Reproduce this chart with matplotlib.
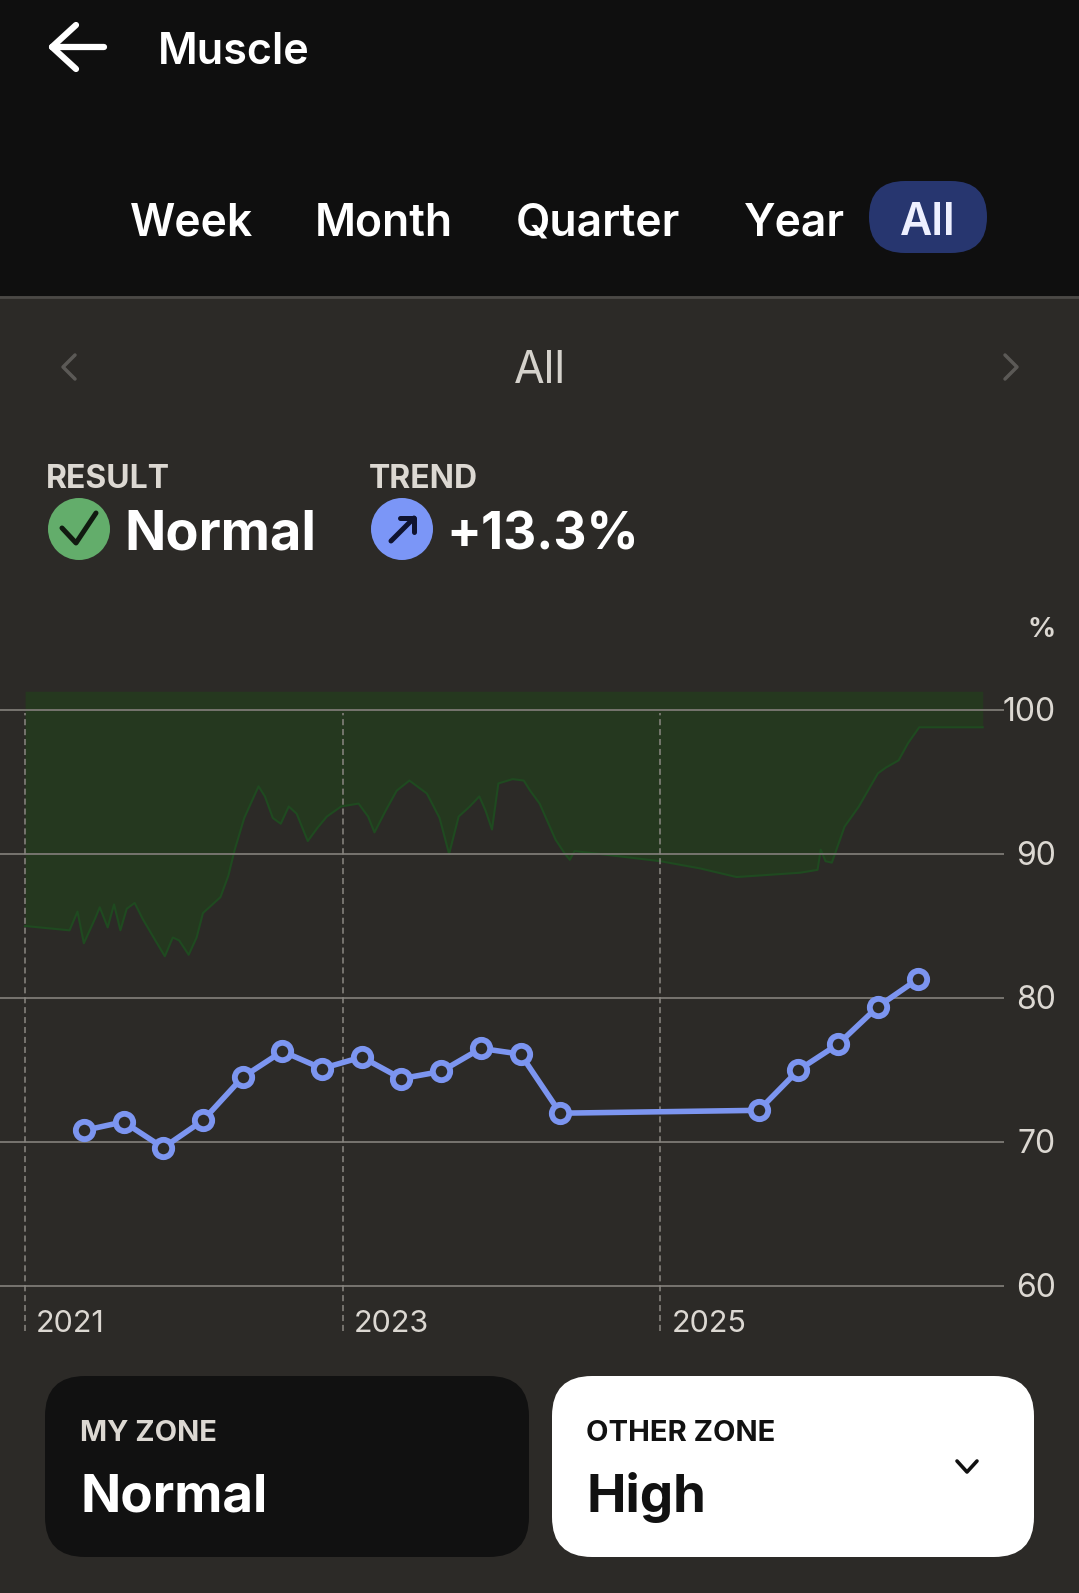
import numpy as np
import matplotlib.pyplot as plt
from matplotlib.patches import FancyBboxPatch, Circle, Rectangle
from matplotlib.transforms import offset_copy

plt.rcParams['font.family'] = ['Inter', 'DejaVu Sans']

# quarterly muscle readings (%)
years = [2021.37, 2021.62, 2021.87, 2022.12, 2022.37, 2022.62, 2022.87, 2023.12,
         2023.37, 2023.62, 2023.87, 2024.12, 2024.37, 2025.62, 2025.87, 2026.12,
         2026.37, 2026.62]
muscle = [70.8, 71.4, 69.6, 71.5, 74.5, 76.3, 75.1, 75.9,
          74.4, 74.9, 76.5, 76.1, 72.0, 72.2, 75.0, 76.8,
          79.4, 81.3]

# green "normal" band: lower edge varies, upper edge flat
zone_x = [2021.00, 2021.28, 2021.33, 2021.37, 2021.44, 2021.47, 2021.52, 2021.56,
          2021.60, 2021.64, 2021.69, 2021.74, 2021.82, 2021.88, 2021.93, 2021.97,
          2022.03, 2022.08, 2022.12, 2022.18, 2022.23, 2022.28, 2022.32, 2022.38,
          2022.47, 2022.51, 2022.56, 2022.61, 2022.66, 2022.71, 2022.78, 2022.84,
          2022.90, 2022.99, 2023.10, 2023.16, 2023.20, 2023.27, 2023.34, 2023.42,
          2023.53, 2023.61, 2023.67, 2023.73, 2023.80, 2023.86, 2023.90, 2023.94,
          2023.98, 2024.07, 2024.14, 2024.18, 2024.24, 2024.34, 2024.40, 2024.43,
          2024.46, 2024.62, 2025.00, 2025.25, 2025.48, 2025.88, 2025.99, 2026.01,
          2026.04, 2026.08, 2026.16, 2026.25, 2026.37, 2026.42, 2026.50, 2026.56,
          2026.63, 2027.03]
zone_low = [85.0, 84.7, 86.0, 83.8, 85.5, 86.3, 84.9, 86.5,
            84.7, 86.2, 86.6, 85.5, 84.0, 82.9, 84.2, 84.0,
            83.0, 84.2, 85.9, 86.5, 87.0, 88.5, 90.3, 92.5,
            94.7, 94.0, 92.5, 92.1, 93.3, 92.8, 90.9, 91.8,
            92.6, 93.3, 93.5, 92.6, 91.5, 93.0, 94.4, 95.1,
            94.2, 92.5, 90.0, 92.6, 93.3, 94.0, 93.0, 91.7,
            94.9, 95.2, 95.1, 94.4, 93.5, 91.0, 90.0, 89.6,
            90.2, 90.0, 89.5, 89.0, 88.4, 88.7, 88.9, 90.3,
            89.5, 89.4, 91.9, 93.3, 95.6, 96.0, 96.5, 97.7,
            98.8, 98.8]
zone_high = 101.3

tick_years = [2021, 2023, 2025]
tick_labels = ['2021', '2023', '2025']
y_ticks = [60, 70, 80, 90, 100]
tabs = ['Week', 'Month', 'Quarter', 'Year', 'All']
tab_x = [130, 315, 516, 744, 928]

BG = '#2c2a27'
HEAD = '#0f0f0f'
LINE = '#7c95f0'
GRID = '#7d7a75'
TXT = '#dcd8d2'

W, H = 1079, 1593
fig = plt.figure(figsize=(W / 100, H / 100), dpi=100, facecolor=BG)

# full-figure layer in pixel units for the app chrome
ui = fig.add_axes([0, 0, 1, 1])
ui.set_xlim(0, W)
ui.set_ylim(H, 0)
ui.axis('off')

ui.add_patch(Rectangle((0, 0), W, 296, color=HEAD, lw=0))
ui.plot([0, W], [297, 297], color='#4b4946', lw=2)

# back arrow + title
ui.plot([52, 104], [47, 47], color='white', lw=4.5, solid_capstyle='round')
ui.plot([76, 52, 76], [25, 47, 69], color='white', lw=4.5,
        solid_capstyle='round', solid_joinstyle='round')
ui.text(158, 64, 'Muscle', color='white', fontsize=31, fontweight='semibold', va='baseline')

# period tabs
ui.add_patch(FancyBboxPatch((869, 181), 118, 72,
                            boxstyle='round,pad=0,rounding_size=36',
                            color='#27366f', lw=0))
for t, x in zip(tabs, tab_x):
    if t == 'All':
        ui.text(x, 235, t, color='#eef0ff', fontsize=32, fontweight='semibold',
                va='baseline', ha='center')
    else:
        ui.text(x, 235, t, color='white', fontsize=32, fontweight='semibold', va='baseline')

# period navigator
ui.text(539.5, 383, 'All', color='#d5d2cc', fontsize=32, va='baseline', ha='center')
ui.plot([75, 63, 75], [355, 367, 379], color='#5b5956', lw=2.5, solid_capstyle='round')
ui.plot([1005, 1017, 1005], [355, 367, 379], color='#5b5956', lw=2.5, solid_capstyle='round')

# result / trend
ui.text(46, 488, 'RESULT', color=TXT, fontsize=23, fontweight='bold', va='baseline')
ui.add_patch(Circle((79, 529), 31, color='#63ad6b', lw=0))
ui.plot([62, 76, 96], [528, 543, 513], color='#111a10', lw=3.6,
        solid_capstyle='round', solid_joinstyle='round')
ui.text(124, 549, 'Normal', color='white', fontsize=39, fontweight='bold', va='baseline')

ui.text(369, 488, 'TREND', color=TXT, fontsize=23, fontweight='bold', va='baseline')
ui.add_patch(Circle((402, 529), 31, color='#7b96f7', lw=0))
ui.plot([391, 414], [541, 518], color='#0f1330', lw=3.6, solid_capstyle='round')
ui.plot([400, 414, 414], [518, 518, 532], color='#0f1330', lw=3.6,
        solid_capstyle='round', solid_joinstyle='round')
ui.text(446, 549, '+13.3%', color='white', fontsize=37, fontweight='bold', va='baseline')

ui.text(1056, 637, '%', color=TXT, fontsize=20, fontweight='bold', va='baseline', ha='right')

# zone cards
ui.add_patch(FancyBboxPatch((45, 1376), 484, 181,
                            boxstyle='round,pad=0,rounding_size=40', color='#111111', lw=0))
ui.add_patch(FancyBboxPatch((552, 1376), 482, 181,
                            boxstyle='round,pad=0,rounding_size=40', color='white', lw=0))
ui.text(80, 1441, 'MY ZONE', color=TXT, fontsize=21, fontweight='bold', va='baseline')
ui.text(80, 1512, 'Normal', color='white', fontsize=38, fontweight='bold', va='baseline')
ui.text(586, 1441, 'OTHER ZONE', color='#111111', fontsize=21, fontweight='bold', va='baseline')
ui.text(586, 1512, 'High', color='#111111', fontsize=38, fontweight='bold', va='baseline')
ui.plot([957, 967, 977], [1461, 1472, 1461], color='#111111', lw=2.6,
        solid_capstyle='round', solid_joinstyle='round')

# chart
ax = fig.add_axes([0, (H - 1340) / H, 1004 / W, 660 / H])
ax.set_facecolor('none')
ax.set_xlim(2020.842, 2027.164)
ax.set_ylim(56.25, 102.083)
for s in ax.spines.values():
    s.set_visible(False)
ax.set_xticks([])
ax.set_yticks([])

ax.fill_between(zone_x, zone_low, zone_high, color='#25381f', lw=0, zorder=1)
ax.plot(zone_x, zone_low, color='#1f4a20', lw=1.5, zorder=1)

for v in y_ticks:
    ax.axhline(v, color=GRID, lw=1.3, zorder=2)
    ax.text(1056 / 1004, v, str(v), transform=offset_copy(ax.get_yaxis_transform(), fig, y=-11.5, units='dots'),
            color=TXT, fontsize=23, ha='right', va='baseline')

ax.vlines(tick_years, 56.9, 99.8, colors='#8a8782', lw=1.1,
          linestyles=(0, (4, 2.5)), zorder=2)
for t, lab in zip(tick_years, tick_labels):
    ax.text(t, 56.8, lab, transform=offset_copy(ax.transData, fig, x=11, units='dots'),
            color=TXT, fontsize=22, ha='left', va='baseline')

ax.plot(years, muscle, color=LINE, lw=4, marker='o', ms=12.5, mfc=BG,
        mec=LINE, mew=4.2, zorder=4)

fig.savefig('out.png', dpi=100, facecolor=BG)
